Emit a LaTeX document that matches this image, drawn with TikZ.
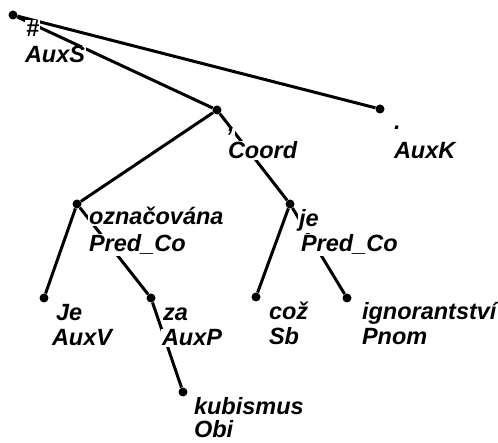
\documentclass[tikz,border=0pt]{standalone}
\usepackage{fontspec}
\setmainfont{Liberation Sans}
\usetikzlibrary{positioning}

\begin{document}
\begin{tikzpicture}[x=1pt,y=-1pt,
  dot/.style={circle,fill=black,inner sep=0pt,minimum size=9pt},
  edge/.style={line width=3pt},
  lbl/.style={fill=white,inner sep=0.8pt,anchor=base west,font=\fontsize{23.5}{26}\selectfont\bfseries\itshape}]
\useasboundingbox (0,0) rectangle (498,443);
% tree nodes
\node[dot](root) at (13,15) {};
\node[dot](coord) at (217,110) {};
\node[dot](auxk) at (380,109) {};
\node[dot](oznac) at (77,204) {};
\node[dot](je) at (290,204) {};
\node[dot](jeaux) at (44,298) {};
\node[dot](za) at (151,298) {};
\node[dot](coz) at (256,297) {};
\node[dot](ign) at (347,298) {};
\node[dot](kub) at (183,392) {};
% dependencies
\draw[edge] (root) -- (coord);
\draw[edge] (root) -- (auxk);
\draw[edge] (coord) -- (oznac);
\draw[edge] (coord) -- (je);
\draw[edge] (oznac) -- (jeaux);
\draw[edge] (oznac) -- (za);
\draw[edge] (za) -- (kub);
\draw[edge] (je) -- (coz);
\draw[edge] (je) -- (ign);
% word forms and functors
\node[lbl](root-w) at ([shift={(12,22)}]root) {\#};
\node[lbl](root-t) at ([shift={(-1,26)}]root-w.base west) {AuxS};
\node[lbl](coord-w) at ([shift={(10,22)}]coord) {,};
\node[lbl](coord-t) at ([shift={(0,27)}]coord-w.base west) {Coord};
\node[lbl](auxk-w) at ([shift={(13,21)}]auxk) {.};
\node[lbl](auxk-t) at ([shift={(0,29)}]auxk-w.base west) {AuxK};
\node[lbl](oznac-w) at ([shift={(11,21)}]oznac) {označována};
\node[lbl](oznac-t) at ([shift={(0,27)}]oznac-w.base west) {Pred\_Co};
\node[lbl](je-w) at ([shift={(8,23)}]je) {je};
\node[lbl](je-t) at ([shift={(2,25)}]je-w.base west) {Pred\_Co};
\node[lbl](jeaux-w) at ([shift={(11,23)}]jeaux) {Je};
\node[lbl](jeaux-t) at ([shift={(-4,25)}]jeaux-w.base west) {AuxV};
\node[lbl](za-w) at ([shift={(11,23)}]za) {za};
\node[lbl](za-t) at ([shift={(-1,25)}]za-w.base west) {AuxP};
\node[lbl](coz-w) at ([shift={(12,23)}]coz) {což};
\node[lbl](coz-t) at ([shift={(0,25)}]coz-w.base west) {Sb};
\node[lbl](ign-w) at ([shift={(14,22)}]ign) {ignorantství};
\node[lbl](ign-t) at ([shift={(0,25)}]ign-w.base west) {Pnom};
\node[lbl](kub-w) at ([shift={(10,22)}]kub) {kubismus};
\node[lbl](kub-t) at ([shift={(0,24)}]kub-w.base west) {Obi};
\end{tikzpicture}
\end{document}
